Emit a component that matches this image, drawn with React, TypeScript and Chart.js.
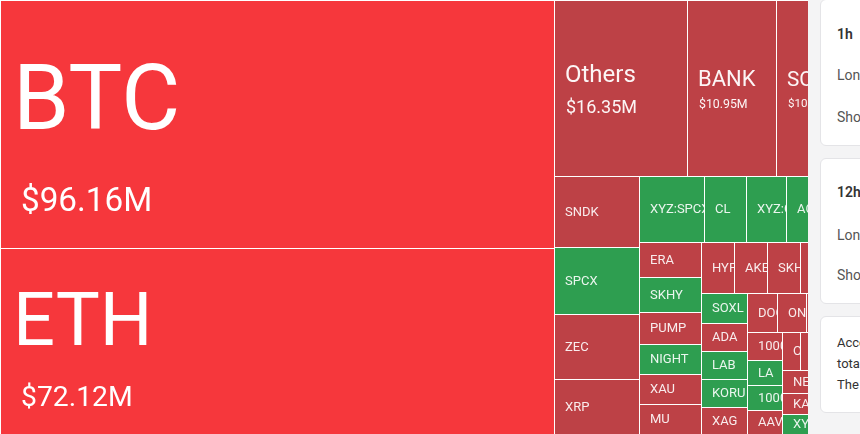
import React, { useEffect, useRef } from "react";
import { Chart, registerables } from "chart.js";

Chart.register(...registerables);

// ---- data ----
const symbols = [
  "BTC", "ETH", "Others", "BANK", "SOL",
  "SNDK", "SPCX", "ZEC", "XRP",
  "XYZ:SPCX", "CL", "XYZ:GOLD", "ACX", "XYZ:NVDA",
  "ERA", "SKHY", "PUMP", "NIGHT", "XAU", "MU",
  "HYPE", "AKE", "SKHX", "FARTCOIN", "WLFI",
  "SOXL", "ADA", "LAB", "KORU", "XAG",
  "DOGE", "ONDO", "SUI", "LINK",
  "1000PEPE", "LA", "1000BONK", "AAVE",
  "OP", "ENA", "TAO", "XYZ:MSTR",
  "NEAR", "KAITO", "XYZ:TSLA",
  "BNB", "AVAX",
];
const amountsM = [
  96.16, 72.12, 16.35, 10.95, 10.41,
  4.22, 3.99, 3.93, 3.27,
  3.0, 1.94, 1.85, 1.75, 1.67,
  1.49, 1.49, 1.35, 1.31, 1.29, 1.27,
  1.18, 1.18, 1.18, 1.1, 1.06,
  0.975, 0.915, 0.91, 0.905, 0.88,
  0.81, 0.81, 0.76, 0.71,
  0.67, 0.6, 0.595, 0.585,
  0.48, 0.54, 0.52, 0.52,
  0.64, 0.58, 0.57,
  0.9, 0.825,
];
// 2 = strong long liquidation, 1 = long liquidation, -1 = short liquidation
const signal = [
  2, 2, 1, 1, 1,
  1, -1, 1, 1,
  -1, -1, -1, -1, -1,
  1, -1, 1, -1, 1, 1,
  1, 1, 1, 1, 1,
  -1, 1, -1, -1, 1,
  1, 1, 1, 1,
  1, -1, -1, 1,
  1, 1, 1, 1,
  1, 1, -1,
  1, 1,
];

const COLORS: Record<string, string> = {
  "2": "#f6373c",
  "1": "#bd4146",
  "-1": "#2e9e50",
};

type Rect = { x0: number; y0: number; x1: number; y1: number };

function squarify(values: number[], x0: number, y0: number, x1: number, y1: number): Rect[] {
  const ratio = (1 + Math.sqrt(5)) / 2;
  const n = values.length;
  const out: Rect[] = new Array(n);
  let value = values.reduce((a, b) => a + b, 0);
  let i0 = 0;
  let i1 = 0;
  while (i0 < n) {
    const dx = x1 - x0;
    const dy = y1 - y0;
    let sumValue = values[i1++];
    let minValue = sumValue;
    let maxValue = sumValue;
    const alpha = Math.max(dy / dx, dx / dy) / (value * ratio);
    let beta = sumValue * sumValue * alpha;
    let minRatio = Math.max(maxValue / beta, beta / minValue);
    for (; i1 < n; ++i1) {
      const v = values[i1];
      sumValue += v;
      if (v < minValue) minValue = v;
      if (v > maxValue) maxValue = v;
      beta = sumValue * sumValue * alpha;
      const newRatio = Math.max(maxValue / beta, beta / minValue);
      if (newRatio > minRatio) {
        sumValue -= v;
        break;
      }
      minRatio = newRatio;
    }
    if (dx < dy) {
      const ny = i1 < n ? y0 + (dy * sumValue) / value : y1;
      let x = x0;
      const k = (x1 - x0) / sumValue;
      for (let i = i0; i < i1; i++) {
        const w = values[i] * k;
        out[i] = { x0: x, y0: y0, x1: i === i1 - 1 ? x1 : x + w, y1: ny };
        x += w;
      }
      y0 = ny;
    } else {
      const nx = i1 < n ? x0 + (dx * sumValue) / value : x1;
      let y = y0;
      const k = (y1 - y0) / sumValue;
      for (let i = i0; i < i1; i++) {
        const h = values[i] * k;
        out[i] = { x0: x0, y0: y, x1: nx, y1: i === i1 - 1 ? y1 : y + h };
        y += h;
      }
      x0 = nx;
    }
    value -= sumValue;
    i0 = i1;
  }
  return out;
}

const FONT = "Roboto, 'Noto Sans', sans-serif";

const treemapPlugin = {
  id: "treemapCells",
  afterDatasetsDraw(chart: any) {
    const ctx: CanvasRenderingContext2D = chart.ctx;
    const xs = chart.scales.x;
    const ys = chart.scales.y;
    const area = chart.chartArea;
    const W = area.right - area.left;
    const H = area.bottom - area.top;
    const rects = squarify(amountsM, 0, 0, W, H);
    rects.forEach((r, i) => {
      const left = Math.round(xs.getPixelForValue(r.x0 / W)) + 1;
      const right = Math.round(xs.getPixelForValue(r.x1 / W));
      const top = Math.round(ys.getPixelForValue(r.y0 / H)) + 1;
      const bottom = Math.round(ys.getPixelForValue(r.y1 / H));
      const w = right - left;
      const h = bottom - top;
      if (w <= 0 || h <= 0) return;
      ctx.save();
      ctx.fillStyle = COLORS[String(signal[i])];
      ctx.fillRect(left, top, w, h);
      ctx.beginPath();
      ctx.rect(left, top, w, h);
      ctx.clip();
      ctx.textAlign = "left";
      const areaPx = w * h;
      const label = symbols[i];
      const valText = "$" + amountsM[i].toFixed(2) + "M";
      if (areaPx > 50000) {
        const nf = 0.27 * h + 24;
        const vf = 0.08 * h + 13.5;
        ctx.fillStyle = "#ffffff";
        ctx.textBaseline = "alphabetic";
        ctx.font = `${nf}px ${FONT}`;
        ctx.fillText(label, left + 12, top + 0.52 * h);
        ctx.font = `${vf}px ${FONT}`;
        ctx.fillText(valText, left + 20, top + 0.85 * h);
      } else if (areaPx > 12000) {
        const nf = Math.min(24, w * 0.25);
        const vf = Math.min(18, w * 0.14);
        const d = 0.222 * nf + 1.426 * vf;
        const capTop = 0.71 * nf;
        // midpoint between name cap top and value baseline = center
        const cy = top + h / 2 + 0.5;
        const nameBase = cy - (d - capTop) / 2;
        ctx.fillStyle = "rgba(255,255,255,0.95)";
        ctx.textBaseline = "alphabetic";
        ctx.font = `${nf}px ${FONT}`;
        ctx.fillText(label, left + 10, nameBase);
        ctx.font = `${vf}px ${FONT}`;
        ctx.fillText(valText, left + 11, nameBase + d);
      } else {
        ctx.fillStyle = "rgba(255,255,255,0.9)";
        ctx.textBaseline = "middle";
        ctx.font = `13px ${FONT}`;
        ctx.fillText(label, left + 10, top + h / 2 + 0.5);
      }
      ctx.restore();
    });
  },
};

const cardStyle: React.CSSProperties = {
  position: "absolute",
  left: 12,
  width: 200,
  background: "#ffffff",
  border: "1px solid #e4e4e7",
  borderRadius: 6,
  boxSizing: "border-box",
};

const textStyle = (top: number, size: number, color: string, weight = 400): React.CSSProperties => ({
  position: "absolute",
  left: 16,
  top,
  fontSize: size,
  lineHeight: "20px",
  color,
  fontWeight: weight,
  whiteSpace: "nowrap",
  fontFamily: FONT,
});

export default function App() {
  const canvasRef = useRef<HTMLCanvasElement | null>(null);

  useEffect(() => {
    document.body.style.margin = "0";
    const canvas = canvasRef.current;
    if (!canvas) return;
    const chart = new Chart(canvas, {
      type: "scatter",
      data: { datasets: [{ data: [], pointRadius: 0 }] },
      options: {
        animation: false,
        responsive: false,
        devicePixelRatio: 1,
        layout: { padding: 0 },
        scales: {
          x: { type: "linear", min: 0, max: 1, display: false },
          y: { type: "linear", min: 0, max: 1, reverse: true, display: false },
        },
        plugins: { legend: { display: false }, tooltip: { enabled: false }, title: { display: false } },
        events: [],
      },
      plugins: [treemapPlugin],
    });
    return () => chart.destroy();
  }, []);

  return (
    <div style={{ position: "fixed", left: 0, top: 0, width: 860, height: 434, overflow: "hidden", background: "#ffffff" }}>
      <canvas ref={canvasRef} width={860} height={434} style={{ display: "block", position: "absolute", left: 0, top: 0 }} />
      <div style={{ position: "absolute", left: 808, top: 0, width: 260, height: 434, background: "#f4f4f5" }}>
        <div style={{ ...cardStyle, top: -1, height: 147 }}>
          <div style={textStyle(24, 14, "#333333", 600)}>1h</div>
          <div style={textStyle(65, 14, "#555555")}>Long</div>
          <div style={textStyle(107, 14, "#555555")}>Short</div>
        </div>
        <div style={{ ...cardStyle, top: 158, height: 146 }}>
          <div style={textStyle(23, 14, "#333333", 600)}>12h</div>
          <div style={textStyle(66, 14, "#555555")}>Long</div>
          <div style={textStyle(106, 14, "#555555")}>Short</div>
        </div>
        <div style={{ ...cardStyle, top: 316, height: 97 }}>
          <div style={{ ...textStyle(15, 13, "#333333"), lineHeight: "21px" }}>
            According to the liquidation data,
            <br />
            total liquidations in the past 24 hours
            <br />
            The largest single liquidation order
          </div>
        </div>
      </div>
    </div>
  );
}
